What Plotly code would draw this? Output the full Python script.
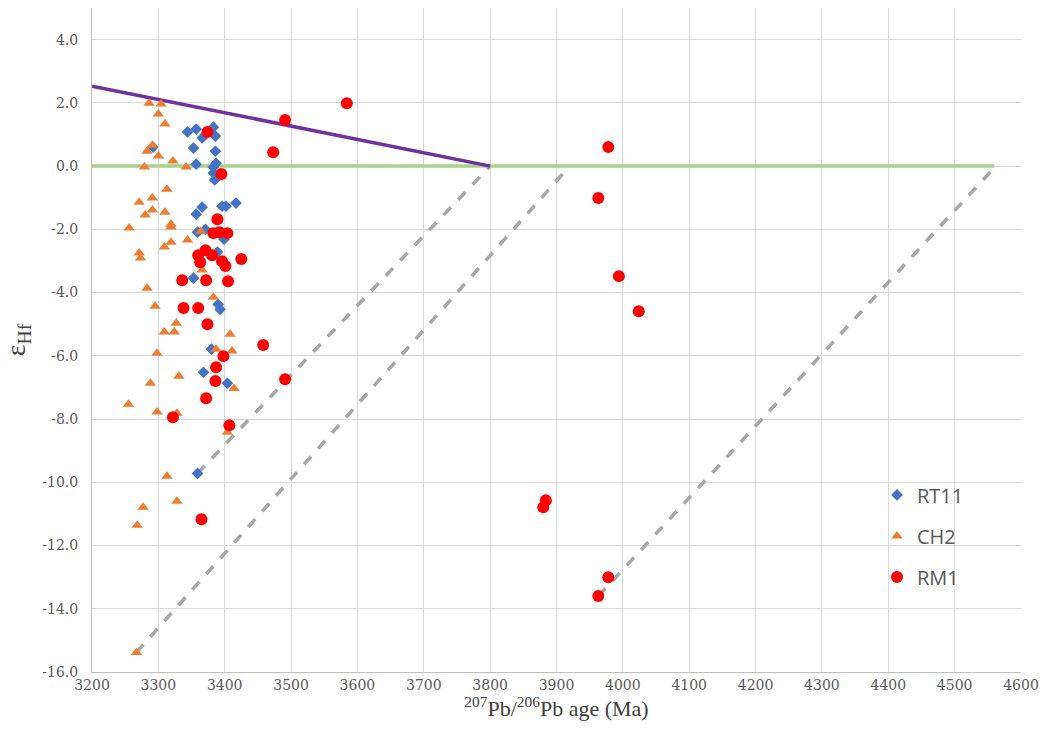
import plotly.graph_objects as go

# ---- data ----
rt11_age = [3292, 3344, 3357, 3366, 3383, 3386, 3353, 3386, 3357, 3387, 3383, 3383, 3385,
            3366, 3396, 3402, 3417, 3357, 3371, 3359, 3399, 3389, 3353, 3390, 3393, 3380,
            3368, 3404, 3359]
rt11_ehf = [0.60, 1.08, 1.17, 0.89, 1.23, 0.95, 0.57, 0.47, 0.06, 0.09, -0.03, -0.22, -0.44,
            -1.30, -1.27, -1.27, -1.17, -1.52, -2.00, -2.09, -2.31, -2.72, -3.54, -4.37, -4.53,
            -5.79, -6.52, -6.87, -9.72]

ch2_age = [3286, 3304, 3300, 3310, 3291, 3283, 3300, 3322, 3279, 3342, 3313, 3271, 3291, 3280,
           3291, 3310, 3256, 3319, 3319, 3309, 3319, 3344, 3364, 3271, 3273, 3366, 3283, 3295,
           3327, 3309, 3324, 3383, 3408, 3387, 3411, 3298, 3331, 3288, 3414, 3255, 3298, 3328,
           3404, 3313, 3328, 3277, 3268, 3267]
ch2_ehf = [1.99, 1.96, 1.65, 1.33, 0.66, 0.47, 0.32, 0.16, -0.03, -0.03, -0.73, -1.14, -1.01,
           -1.55, -1.39, -1.46, -1.96, -1.84, -1.93, -2.56, -2.41, -2.34, -2.06, -2.75, -2.91,
           -3.29, -3.86, -4.43, -4.97, -5.25, -5.25, -4.15, -5.32, -5.79, -5.85, -5.92, -6.65,
           -6.87, -7.03, -7.53, -7.78, -7.82, -8.42, -9.81, -10.60, -10.79, -11.36, -15.38]

rm1_age = [3374, 3395, 3389, 3383, 3392, 3404, 3371, 3381, 3360, 3363, 3396, 3401, 3425, 3336,
           3372, 3405, 3338, 3360, 3374, 3398, 3387, 3386, 3372, 3322, 3407, 3365, 3491, 3473,
           3458, 3491, 3584, 3978, 3963, 3994, 4024, 3880, 3884, 3978, 3963]
rm1_ehf = [1.08, -0.25, -1.68, -2.12, -2.09, -2.12, -2.66, -2.82, -2.82, -3.04, -3.01, -3.16,
           -2.94, -3.61, -3.61, -3.64, -4.49, -4.49, -5.00, -6.01, -6.36, -6.80, -7.34, -7.94,
           -8.20, -11.17, 1.46, 0.44, -5.66, -6.74, 1.99, 0.60, -1.01, -3.48, -4.59, -10.79,
           -10.57, -13.00, -13.60]

dm_age = [3200, 3800]
dm_ehf = [2.53, 0.0]
chur_age = [3200, 4560]
chur_ehf = [0.0, 0.0]
evo1_age = [3359, 3800]
evo1_ehf = [-9.72, 0.0]
evo2_age = [3267, 3920]
evo2_ehf = [-15.38, 0.0]
evo3_age = [3963, 4562]
evo3_ehf = [-13.60, 0.0]

x_ticks = list(range(3200, 4601, 100))
y_ticks = [-16, -14, -12, -10, -8, -6, -4, -2, 0, 2, 4]

fig = go.Figure()

line_w = 3.5
for ax, ay in [(evo1_age, evo1_ehf), (evo2_age, evo2_ehf), (evo3_age, evo3_ehf)]:
    fig.add_trace(go.Scatter(x=ax, y=ay, mode="lines", showlegend=False, hoverinfo="skip",
                             line=dict(color="#A6A6A6", width=line_w, dash="dash")))
fig.add_trace(go.Scatter(x=chur_age, y=chur_ehf, mode="lines", showlegend=False,
                         line=dict(color="#A9D18E", width=line_w)))
fig.add_trace(go.Scatter(x=dm_age, y=dm_ehf, mode="lines", showlegend=False,
                         line=dict(color="#7030A0", width=line_w)))

fig.add_trace(go.Scatter(x=rt11_age, y=rt11_ehf, mode="markers", name="RT11", legendgroup="a",
                         marker=dict(symbol="diamond", size=9, color="#4472C4")))
fig.add_trace(go.Scatter(x=ch2_age, y=ch2_ehf, mode="markers", name="CH2", legendgroup="b",
                         marker=dict(symbol="triangle-up", size=10, color="#ED7D31")))
fig.add_trace(go.Scatter(x=rm1_age, y=rm1_ehf, mode="markers", name="RM1", legendgroup="c",
                         marker=dict(symbol="circle", size=12, color="#FF0000")))

tick_font = dict(family="DejaVu Serif", size=14, color="#595959")

fig.update_layout(
    width=1043, height=737,
    margin=dict(l=92, r=22, t=8, b=65),
    paper_bgcolor="white", plot_bgcolor="white",
    showlegend=True,
    legend=dict(x=0.845, y=0.296, xanchor="left", yanchor="top",
                font=dict(family="Open Sans, Noto Sans, sans-serif", size=20, color="#595959"),
                tracegroupgap=12, traceorder="grouped", bgcolor="rgba(0,0,0,0)"),
    xaxis=dict(range=[3200, 4600], tickmode="array", tickvals=x_ticks,
               ticktext=[str(v) for v in x_ticks], automargin=False,
               showgrid=True, gridcolor="#D9D9D9", gridwidth=1,
               showline=True, linecolor="#BFBFBF", linewidth=1, zeroline=False,
               ticks="", tickfont=tick_font,
               title=dict(text="<sup>207</sup>Pb/<sup>206</sup>Pb age (Ma)",
                          font=dict(family="Liberation Serif", size=22,
                                    color="#404040"), standoff=6)),
    yaxis=dict(range=[-16, 5], tickmode="array", tickvals=y_ticks,
               ticktext=[f"{v:.1f}" for v in y_ticks], automargin=False,
               showgrid=True, gridcolor="#D9D9D9", gridwidth=1,
               showline=True, linecolor="#BFBFBF", linewidth=1, zeroline=False,
               ticks="", tickfont=tick_font, ticklabelstandoff=10,
               title=dict(text="ε<sub>Hf</sub>",
                          font=dict(family="Liberation Serif", size=28,
                                    color="#404040"), standoff=8)),
)

fig.write_html("out.html")
